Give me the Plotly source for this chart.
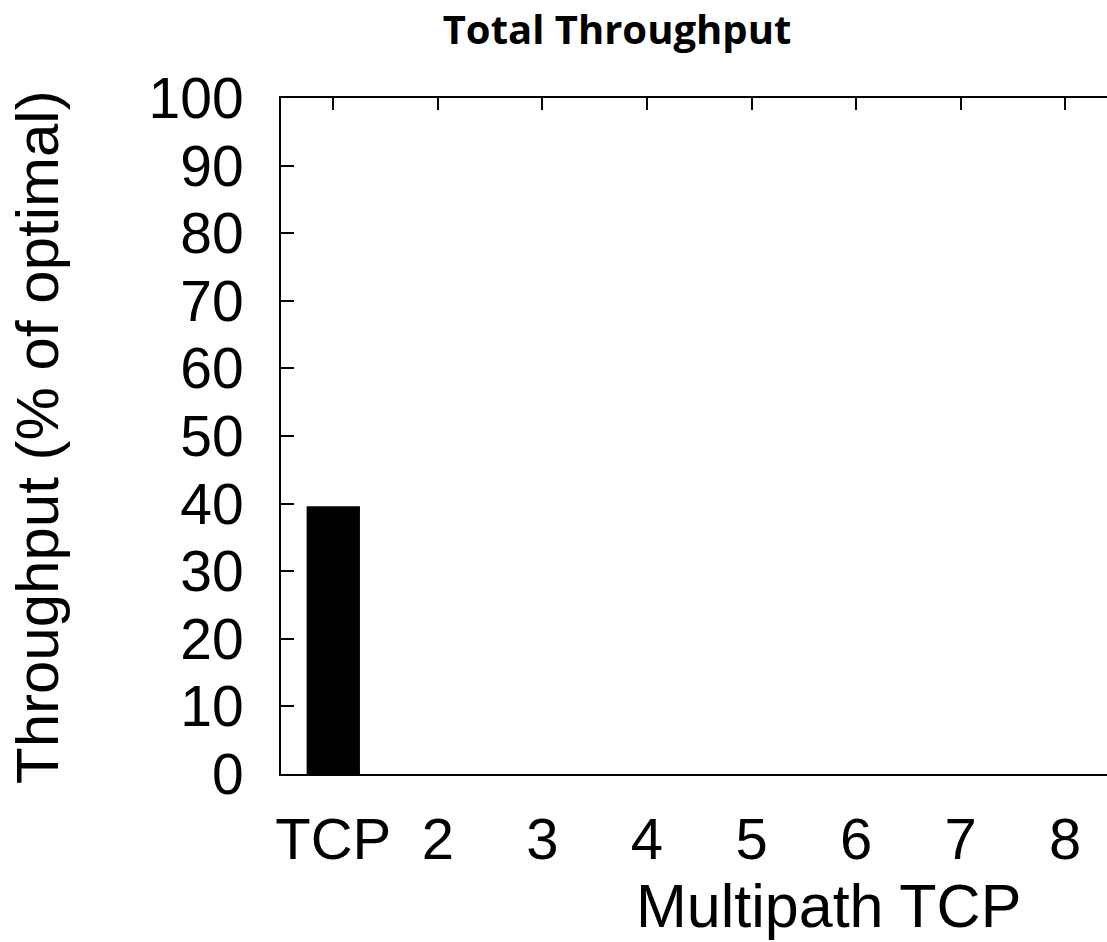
import plotly.graph_objects as go

categories = ["TCP", "2", "3", "4", "5", "6", "7", "8"]
throughput = [39.6, 0, 0, 0, 0, 0, 0, 0]
y_ticks = [0, 10, 20, 30, 40, 50, 60, 70, 80, 90, 100]

W, H = 1107, 942
L, R, T, B = 281, 0, 98, 168

fig = go.Figure()

fig.add_trace(
    go.Bar(
        x=list(range(len(categories))),
        y=throughput,
        width=0.51,
        marker=dict(color="black", line=dict(width=0)),
        showlegend=False,
    )
)
# invisible trace so the top axis gets its ticks
fig.add_trace(
    go.Scatter(
        x=list(range(len(categories))),
        y=[None] * len(categories),
        xaxis="x2",
        showlegend=False,
        hoverinfo="skip",
    )
)

font = "Liberation Sans, Arial, sans-serif"

fig.update_layout(
    width=W,
    height=H,
    margin=dict(l=L, r=R, t=T, b=B),
    paper_bgcolor="white",
    plot_bgcolor="white",
    title=dict(
        text="<b>Total Throughput</b>",
        font=dict(family="Open Sans, sans-serif", size=40, color="black"),
        x=617 / W,
        xanchor="center",
        xref="container",
        y=1 - 30 / H,
        yanchor="middle",
        yref="container",
    ),
    xaxis=dict(
        range=[-0.5, 7.4],
        tickmode="array",
        tickvals=list(range(len(categories))),
        ticktext=categories,
        ticks="",
        showgrid=False,
        zeroline=False,
        showline=True,
        linecolor="black",
        linewidth=1.5,
        tickfont=dict(family=font, size=58, color="black"),
        ticklabelstandoff=14,
    ),
    xaxis2=dict(
        overlaying="x",
        side="top",
        matches="x",
        tickmode="array",
        tickvals=list(range(len(categories))),
        ticks="inside",
        ticklen=12,
        tickwidth=1.5,
        tickcolor="black",
        showticklabels=False,
        showgrid=False,
        zeroline=False,
        showline=True,
        linecolor="black",
        linewidth=2,
    ),
    yaxis=dict(
        range=[0, 100],
        tickmode="array",
        tickvals=y_ticks,
        ticks="inside",
        ticklen=13,
        tickwidth=1.5,
        tickcolor="black",
        showgrid=False,
        zeroline=False,
        showline=True,
        linecolor="black",
        linewidth=2,
        tickfont=dict(family=font, size=57, color="black"),
        ticklabelstandoff=24,
    ),
    annotations=[
        dict(
            text="Multipath TCP",
            x=828,
            y=906,
            showarrow=False,
            font=dict(family=font, size=61, color="black"),
        ),
        dict(
            text="Throughput (% of optimal)",
            x=37,
            y=437,
            textangle=-90,
            showarrow=False,
            font=dict(family=font, size=60, color="black"),
        ),
    ],
)

# place annotations in pixel terms via paper coordinates
pw = W - L - R
ph = H - T - B
for ann in fig.layout.annotations:
    ann.xref = "paper"
    ann.yref = "paper"
    ann.x = (ann.x - L) / pw
    ann.y = (H - B - ann.y) / ph
    ann.xanchor = "center"
    ann.yanchor = "middle"

fig.write_html(
    "out.html",
    config={"displayModeBar": False},
    post_script="document.body.style.margin='0';",
)
